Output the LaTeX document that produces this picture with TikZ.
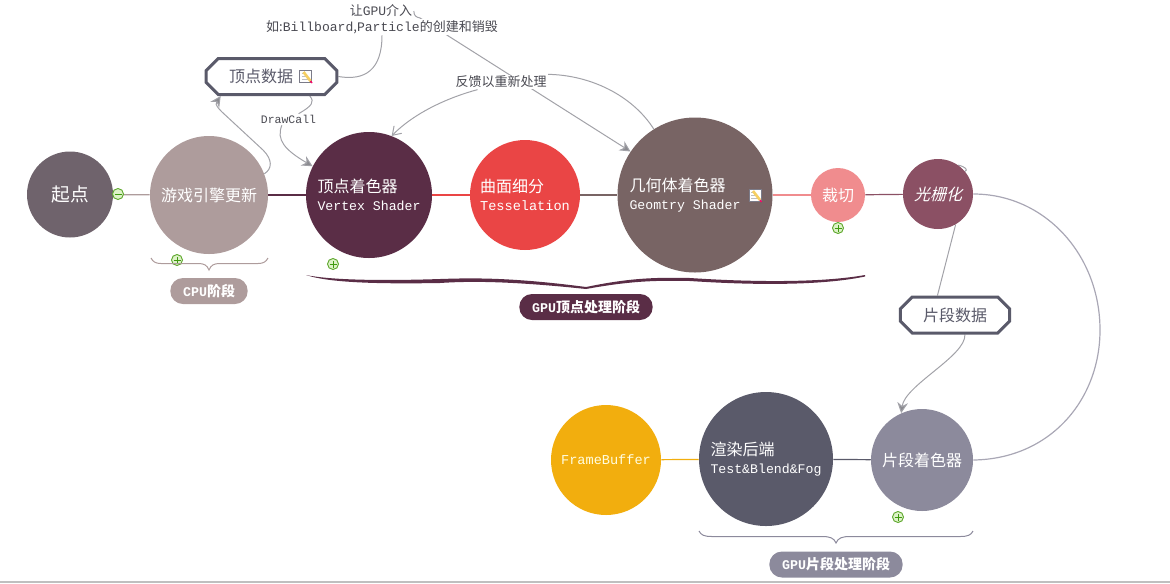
\documentclass[tikz,border=0pt]{standalone}
\usepackage{fontspec}
\setmainfont{Noto Sans CJK SC}
\setmonofont{Liberation Mono}
\newfontfamily\cnslant[FakeSlant=0.25]{Noto Sans CJK SC}
\usetikzlibrary{arrows.meta,shapes.misc,backgrounds}

\definecolor{startcol}{HTML}{6F636C}
\definecolor{gamecol}{HTML}{AE9C9C}
\definecolor{vertexcol}{HTML}{5A2D46}
\definecolor{tesscol}{HTML}{EA4545}
\definecolor{geomcol}{HTML}{786464}
\definecolor{clipcol}{HTML}{F08C8E}
\definecolor{rastcol}{HTML}{8B5064}
\definecolor{fragcol}{HTML}{8C8A9C}
\definecolor{rendercol}{HTML}{5A5A6A}
\definecolor{buffercol}{HTML}{F2AE0E}
\definecolor{linkcol}{HTML}{A2A2A8}
\definecolor{notecol}{HTML}{4A4A52}
\definecolor{markgreen}{HTML}{5FA82E}
\definecolor{markfill}{HTML}{DDF2C8}
\definecolor{marksign}{HTML}{3F9A10}
\definecolor{pencilcol}{HTML}{F6CF62}

\newcommand{\en}[2][9.9]{{\ttfamily\fontsize{#1pt}{13.5pt}\selectfont #2}}

\tikzset{
  disc/.style 2 args={circle,inner sep=0pt,fill=#2,minimum size=#1*0.75pt,text=white,align=left,
    font=\fontsize{12pt}{13.5pt}\selectfont},
  octbox/.style={chamfered rectangle,chamfered rectangle xsep=4.5pt,chamfered rectangle ysep=4.5pt,draw=rendercol,line width=2.25pt,fill=white,
    inner sep=0pt,minimum height=27pt,text=rendercol,font=\fontsize{12pt}{14pt}\selectfont},
  pill/.style={rectangle,rounded corners=9.5pt,inner sep=0pt,fill=#1,minimum height=19.5pt,minimum width=58pt,
    text=white,font=\bfseries\fontsize{10.5pt}{12pt}\selectfont},
  tag/.style={inner sep=1pt,fill=white,text=notecol,align=center,font=\fontsize{9.75pt}{12pt}\selectfont},
  link/.style={draw=linkcol,line width=0.75pt,-{Stealth[length=8pt,width=8pt,fill=linkcol!85!black]}},
  plainlink/.style={draw=linkcol,line width=0.75pt},
  chain/.style={draw=#1,line width=0.9pt},
  markcircle/.style={draw=markgreen,fill=markfill,line width=0.7pt},
  plusmark/.pic={
    \draw[markcircle] (0,0) circle (5.5);
    \draw[marksign,line width=0.7pt] (-3.5,0) -- (3.5,0) (0,-3.5) -- (0,3.5);
  },
  minusmark/.pic={
    \draw[markcircle] (0,0) circle (5.5);
    \draw[marksign,line width=0.7pt] (-3.5,0) -- (3.5,0);
  },
  noteicon/.pic={
    \draw[draw=rendercol!80,fill=white,line width=0.75pt] (-6,-6) rectangle (6,6);
    \draw[gray!50,line width=0.6pt] (-4,-3) -- (3,-3) (-4,0) -- (1,0) (-4,3) -- (-1,3);
    \draw[pencilcol,line width=2pt] (-2,4) -- (5,-5);
    \draw[red!60!magenta,line width=1pt] (5,-5) -- (6.5,-7);
  },
}

\begin{document}
\begin{tikzpicture}[x=0.75pt,y=0.75pt,yscale=-1,xscale=1]
\useasboundingbox (0,0) rectangle (1170,583);

% Circles of the pipeline
\node (start) at (70,194.5) [disc={86}{startcol},font=\fontsize{14pt}{16pt}\selectfont] {起点};
\node (game) at (209,195) [disc={118}{gamecol}] {游戏引擎更新};
\node (vertex) at (369,195) [disc={126}{vertexcol}] {顶点着色器\\\en{Vertex Shader}};
\node (tess) at (525,195) [disc={110}{tesscol}] {曲面细分\\\en[10.2]{Tesselation}};
\node (geom) at (695,195) [disc={155}{geomcol}] {几何体着色器\\\en{Geomtry Shader}\rule{15pt}{0pt}};
\node (clip) at (838,195) [disc={54}{clipcol}] {裁切};
\node (rast) at (938,194) [disc={70}{rastcol}] {\cnslant 光栅化};
\node (frag) at (922,460) [disc={102}{fragcol}] {片段着色器};
\node (render) at (766,459) [disc={134}{rendercol}] {渲染后端\\\en{Test\&Blend\&Fog}};
\node (buffer) at (606,460) [disc={110}{buffercol},text=yellow!12!white] {\en[10.2]{FrameBuffer}};

% Boxes with cut corners
\node (vdata) at (271.5,76.5) [octbox,minimum width=98pt] {顶点数据\rule{15.75pt}{0pt}};
\node (fdata) at (955,315) [octbox,minimum width=82pt] {片段数据};

% Texts on the links
\node (notetop) at (381,11) [inner sep=1pt,text=notecol,font=\fontsize{9.75pt}{12pt}\selectfont] {让\en[9.75]{GPU}介入};
\node (notetext) at (382,27) [tag] {如:\en[9.8]{Billboard},\en[9.8]{Particle}的创建和销毁};
\node (drawcall) at (288.5,119.5) [tag] {\en[8.6]{DrawCall}};
\node (feedback) at (501,82) [tag] {反馈以重新处理};

% Stage labels
\node (cpustage) at (209,291) [pill=gamecol] {\en[10]{\bfseries CPU}阶段};
\node (vstage) at (586,307) [pill=vertexcol,minimum width=100pt] {\en[10]{\bfseries GPU}顶点处理阶段};
\node (fstage) at (836,564.5) [pill=fragcol,minimum width=100pt] {\en[10]{\bfseries GPU}片段处理阶段};

% Marks and icons
\pic at (118,194) {minusmark};
\pic at (177,260) {plusmark};
\pic at (333,264) {plusmark};
\pic at (838,228) {plusmark};
\pic at (898,517) {plusmark};
\pic at (305.5,76) {noteicon};
\pic at (755,195) {noteicon};

% Braces
\draw[draw=gamecol,line width=0.75pt] (151,258) .. controls (153,262) and (156,263.5) .. (161,263.5) -- (198,263.5) .. controls (204,263.5) and (207,265) .. (209,270) .. controls (211,265) and (214,263.5) .. (220,263.5) -- (258,263.5) .. controls (263,263.5) and (266,262) .. (268,258);
\fill[vertexcol] (306,275) .. controls (330,280) and (380,281) .. (440,279) .. controls (470,278) and (510,277) .. (586,287) .. controls (625,279) and (650,277) .. (690,278) .. controls (750,282) and (820,283) .. (865,275) -- (865,276.5) .. controls (820,286) and (750,285) .. (690,281) .. controls (650,280) and (625,282) .. (586,289) .. controls (510,281) and (470,281) .. (440,283) .. controls (380,284) and (330,283) .. (306,275) -- cycle;
\draw[draw=fragcol,line width=0.75pt] (699,531) .. controls (701,535) and (704,536.5) .. (712,536.5) -- (822,536.5) .. controls (830,536.5) and (834,538) .. (836,543) .. controls (838,538) and (842,536.5) .. (850,536.5) -- (960,536.5) .. controls (968,536.5) and (971,535) .. (973,531);

% Bottom edge
\draw[draw=gray!50,line width=0.9pt] (0,582) -- (1170,582);

\begin{pgfonlayer}{background}
% Main chain
\draw[chain=gamecol] (start) -- (game);
\draw[chain=vertexcol] (game) -- (vertex);
\draw[chain=tesscol] (vertex) -- (tess);
\draw[chain=geomcol] (tess) -- (geom);
\draw[chain=clipcol] (geom) -- (clip);
\draw[chain=rastcol] (clip) -- (rast);
\draw[chain=fragcol!75] (rast.east) .. controls (1045,194) and (1100,255) .. (1100,330) .. controls (1100,400) and (1050,459) .. (frag.east);
\draw[chain=rendercol] (frag) -- (render);
\draw[chain=buffercol] (render) -- (buffer);

% Links with arrows
\draw[link] (game.21) .. controls (272,169) and (273,160) .. (263,150) -- (222,112) .. controls (214,104) and (216,103) .. (vdata.201);
\draw[plainlink] (vdata.-27) .. controls (315,102) and (312,106) .. (drawcall.30);
\draw[link] (drawcall.-139) .. controls (276,140) and (285,150) .. (vertex.153);
\draw[plainlink] (vdata.east) .. controls (365,81) and (382,70) .. (notetext.south);
\draw[link] (notetop.east) .. controls (414,16) and (416,17) .. (420,18) -- (geom.146);
\draw[plainlink] (geom.122) .. controls (632,95) and (590,75) .. (feedback.north east);
\draw[link,-{Straight Barb[length=6pt,width=8pt]}] (feedback.-162) .. controls (450,97) and (415,112) .. (vertex.69);
\draw[plainlink] (rast.-60) -- (fdata.132);
\draw[plainlink] (rast.55) .. controls (966,167) and (968,170) .. (rast.40);
\draw[link] (fdata.-63) .. controls (966,356) and (905,385) .. (frag.114);
\end{pgfonlayer}

\end{tikzpicture}
\end{document}
